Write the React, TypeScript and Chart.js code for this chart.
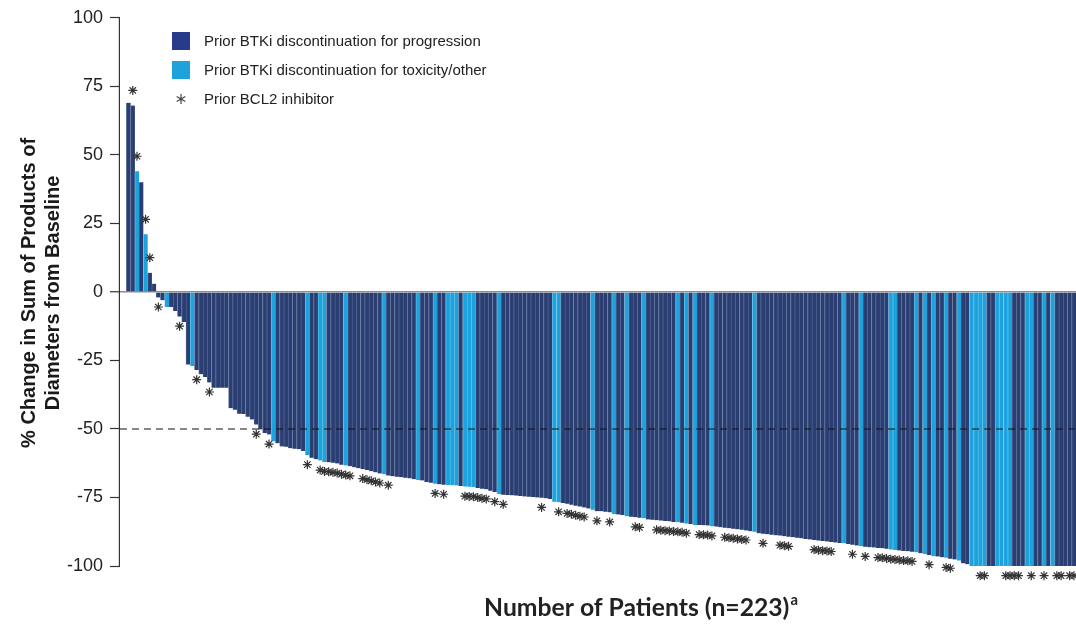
import React, { useEffect, useRef } from "react";
import { Chart, registerables } from "chart.js";

Chart.register(...registerables);

// % change from baseline for each of the 223 patients (sorted waterfall)
const responseValues: number[] = [
  69, 68, 44, 40, 21, 7, 3, -2, -3, -5.5,
  -5.5, -7, -9, -11, -26.5, -27, -28.5, -30, -31, -33,
  -35, -35, -35, -35, -42.4, -43, -44.4, -44.5, -45.5, -46.5,
  -48.4, -50.2, -51.5, -52, -54.5, -55.2, -56.4, -56.5, -57, -57.2,
  -57.4, -58, -59.5, -60.5, -61, -61.5, -62, -62.1, -62.3, -62.6,
  -63, -63.3, -63.6, -64, -64.3, -64.6, -65, -65.4, -65.8, -66.2,
  -66.5, -67, -67.2, -67.4, -67.6, -67.8, -68, -68.3, -68.6, -68.8,
  -69.3, -69.6, -70, -70.2, -70.3, -70.4, -70.5, -70.6, -70.8, -71,
  -71.1, -71.2, -71.5, -71.8, -72, -72.5, -73, -73.7, -74, -74.1,
  -74.2, -74.3, -74.4, -74.6, -74.7, -74.8, -75, -75.1, -75.3, -75.5,
  -76.5, -76.7, -77, -77.3, -77.6, -78, -78.3, -78.6, -79, -79.5,
  -80, -80, -80.2, -80.4, -81, -81.2, -81.4, -81.8, -82, -82.2,
  -82.4, -82.6, -83, -83.1, -83.3, -83.4, -83.6, -83.7, -83.9, -84,
  -84.2, -84.5, -84.7, -85, -85, -85.1, -85.2, -85.5, -85.6, -85.8,
  -86, -86.2, -86.4, -86.6, -86.8, -87, -87.3, -87.5, -88, -88.2,
  -88.4, -88.6, -88.8, -88.9, -89.1, -89.3, -89.5, -89.7, -89.9, -90.1,
  -90.3, -90.5, -90.7, -90.9, -91, -91.2, -91.4, -91.6, -91.7, -92,
  -92.2, -92.5, -92.7, -93, -93.1, -93.2, -93.4, -93.5, -93.7, -94,
  -94.1, -94.3, -94.5, -94.6, -94.8, -95, -95.3, -95.6, -96, -96.4,
  -96.5, -96.8, -97, -97.3, -97.6, -98, -99, -99.3, -100, -100,
  -100, -100, -100, -100, -100, -100, -100, -100, -100, -100,
  -100, -100, -100, -100, -100, -100, -100, -100, -100, -100,
  -100, -100, -100,
];

// patients whose prior BTKi was discontinued for toxicity/other (light bars)
const toxicityPatients: number[] = [
  2, 4, 9, 15, 34, 42, 45, 46, 51, 60, 68, 72, 75, 76, 77, 79, 80, 81, 87,
  100, 101, 109, 114, 117, 121, 129, 131, 133, 137, 147, 168, 172, 179, 180,
  185, 187, 189, 192, 195, 198, 199, 200, 201, 204, 205, 206, 207, 211, 212,
  215, 217,
];

// patients with prior BCL2 inhibitor (asterisks)
const priorBcl2Patients: number[] = [
  1, 2, 4, 5, 7, 12, 16, 19, 30, 33, 42, 45, 46, 47, 48, 49, 50, 51, 52, 55,
  56, 57, 58, 59, 61, 72, 74, 79, 80, 81, 82, 83, 84, 86, 88, 97, 101, 103,
  104, 105, 106, 107, 110, 113, 119, 120, 124, 125, 126, 127, 128, 129, 130,
  131, 134, 135, 136, 137, 140, 141, 142, 143, 144, 145, 149, 153, 154, 155,
  161, 162, 163, 164, 165, 170, 173, 176, 177, 178, 179, 180, 181, 182, 183,
  184, 188, 192, 193, 200, 201, 206, 207, 208, 209, 212, 215, 218, 219, 221,
  222,
];

const yTickValues: number[] = [-100, -75, -50, -25, 0, 25, 50, 75, 100];
const legendLabels: string[] = [
  "Prior BTKi discontinuation for progression",
  "Prior BTKi discontinuation for toxicity/other",
  "Prior BCL2 inhibitor",
];
const yTitleLines: string[] = ["% Change in Sum of Products of", "Diameters from Baseline"];
const xTitleText = "Number of Patients (n=223)";
const xTitleSup = "a";
const responseThreshold = -50;

const DARK = "#2a3e72";
const DARK_EDGE = "#566a98";
const LIGHT = "#1ca2dd";
const LIGHT_EDGE = "#6cc3ea";
const LEGEND_DARK = "#283a8a";

export default function App() {
  const canvasRef = useRef<HTMLCanvasElement | null>(null);

  useEffect(() => {
    const canvas = canvasRef.current;
    if (!canvas) return;
    const toxSet = new Set(toxicityPatients);
    const bars = responseValues.map((v, i) => ({ x: i, y: v }));
    const stars = priorBcl2Patients.map((i) => {
      const v = responseValues[i];
      return { x: i, y: v > 0 ? v + 5.5 : v - 3.5 };
    });
    const yTop = yTickValues[yTickValues.length - 1];
    const yBottom = yTickValues[0];

    const decor = {
      id: "decor",
      afterDatasetsDraw(chart: any) {
        const { ctx, chartArea, scales } = chart;
        const yS = scales.y;
        const yy = yS.getPixelForValue(responseThreshold);
        ctx.save();
        ctx.strokeStyle = "#111";
        ctx.lineWidth = 1.2;
        ctx.setLineDash([7, 5]);
        ctx.beginPath();
        ctx.moveTo(chartArea.left, yy);
        ctx.lineTo(chartArea.right, yy);
        ctx.stroke();
        ctx.restore();
        // y axis line, from top tick to bottom tick only
        ctx.save();
        ctx.strokeStyle = "#333";
        ctx.lineWidth = 1.2;
        ctx.beginPath();
        const ax = chartArea.left - 0.6;
        ctx.moveTo(ax, yS.getPixelForValue(yTop) - 0.6);
        ctx.lineTo(ax, yS.getPixelForValue(yBottom) + 0.6);
        ctx.stroke();
        ctx.restore();
      },
      afterDraw(chart: any) {
        const { ctx, scales } = chart;
        const yS = scales.y;
        ctx.save();
        // y title
        ctx.fillStyle = "#1a1a1a";
        ctx.font = "bold 20px 'Liberation Sans', Arial, sans-serif";
        ctx.textAlign = "center";
        ctx.textBaseline = "middle";
        const cy = (yS.getPixelForValue(yTop) + yS.getPixelForValue(yBottom)) / 2 + 1;
        const xs = [29, 53];
        yTitleLines.forEach((t, k) => {
          ctx.save();
          ctx.translate(xs[k], cy);
          ctx.rotate(-Math.PI / 2);
          ctx.fillText(t, 0, 0);
          ctx.restore();
        });
        // x title, sized to the reference width
        ctx.textBaseline = "alphabetic";
        ctx.textAlign = "left";
        ctx.font = "bold 20px Lato, 'Open Sans', sans-serif";
        const w20 = ctx.measureText(xTitleText).width;
        const size = Math.min(26, (20 * 306) / w20);
        ctx.font = `bold ${size.toFixed(1)}px Lato, 'Open Sans', sans-serif`;
        const w = ctx.measureText(xTitleText).width;
        const supSize = size * 0.6;
        ctx.font = `bold ${supSize.toFixed(1)}px Lato, 'Open Sans', sans-serif`;
        const ws = ctx.measureText(xTitleSup).width;
        const x0 = 641 - (w + ws + 1) / 2;
        ctx.fillStyle = "#222";
        ctx.font = `bold ${size.toFixed(1)}px Lato, 'Open Sans', sans-serif`;
        ctx.fillText(xTitleText, x0, 616);
        ctx.font = `bold ${supSize.toFixed(1)}px Lato, 'Open Sans', sans-serif`;
        ctx.fillText(xTitleSup, x0 + w + 1, 605);
        // legend
        const lx = 172;
        const rows = [41, 70, 99];
        ctx.font = "15px 'Liberation Sans', Arial, sans-serif";
        ctx.textBaseline = "middle";
        rows.forEach((ry, k) => {
          if (k === 0) {
            ctx.fillStyle = LEGEND_DARK;
            ctx.fillRect(lx, ry - 9, 18, 18);
          } else if (k === 1) {
            ctx.fillStyle = LIGHT;
            ctx.fillRect(lx, ry - 9, 18, 18);
          } else {
            ctx.strokeStyle = "#444";
            ctx.lineWidth = 1.2;
            const cx = lx + 9;
            const r = 5;
            ctx.beginPath();
            for (let a = 0; a < 3; a++) {
              const ang = Math.PI / 2 + (a * Math.PI) / 3;
              ctx.moveTo(cx + r * Math.cos(ang), ry + r * Math.sin(ang));
              ctx.lineTo(cx - r * Math.cos(ang), ry - r * Math.sin(ang));
            }
            ctx.stroke();
          }
          ctx.fillStyle = "#222";
          ctx.fillText(legendLabels[k], 204, ry + 1);
        });
        ctx.restore();
      },
    };

    const chart = new Chart(canvas, {
      type: "bar",
      data: {
        datasets: [
          {
            type: "scatter",
            label: legendLabels[2],
            data: stars,
            pointStyle: "star",
            radius: 4.5,
            borderColor: "#333",
            backgroundColor: "#333",
            borderWidth: 1.2,
            clip: false,
            order: 0,
          } as any,
          {
            type: "bar",
            label: legendLabels[0],
            data: bars,
            backgroundColor: responseValues.map((_, i) => (toxSet.has(i) ? LIGHT : DARK)),
            borderColor: responseValues.map((_, i) => (toxSet.has(i) ? LIGHT_EDGE : DARK_EDGE)),
            borderWidth: { left: 0.8, right: 0, top: 0, bottom: 0 },
            borderSkipped: false,
            barPercentage: 1,
            categoryPercentage: 1,
            order: 1,
          } as any,
        ],
      },
      options: {
        animation: false,
        responsive: true,
        maintainAspectRatio: false,
        layout: { autoPadding: false, padding: { top: 17, bottom: 41.5, left: 0, right: 0 } },
        plugins: { legend: { display: false }, tooltip: { enabled: false }, title: { display: false } },
        scales: {
          x: {
            type: "linear",
            min: -2,
            max: 222.5,
            display: false,
            offset: false,
            grid: { display: false },
          },
          y: {
            min: -106,
            max: 100,
            afterBuildTicks: (axis: any) => {
              axis.ticks = yTickValues.map((v) => ({ value: v }));
            },
            afterFit: (axis: any) => {
              axis.width = 120;
            },
            ticks: {
              color: "#222",
              font: { family: "'Liberation Sans', Arial, sans-serif", size: 18 },
              padding: 7,
            },
            grid: {
              color: (c: any) => (c.tick && c.tick.value === 0 ? "#8c8c8c" : "rgba(0,0,0,0)"),
              lineWidth: (c: any) => (c.tick && c.tick.value === 0 ? 1.5 : 1),
              tickColor: "#333",
              tickWidth: 1.2,
              tickLength: 10,
              drawOnChartArea: true,
            },
            border: { display: false },
          },
        },
      },
      plugins: [decor],
    });

    return () => chart.destroy();
  }, []);

  return (
    <div style={{ position: "fixed", left: 0, top: 0, width: 1076, height: 624, background: "#fff" }}>
      <canvas ref={canvasRef} />
    </div>
  );
}
